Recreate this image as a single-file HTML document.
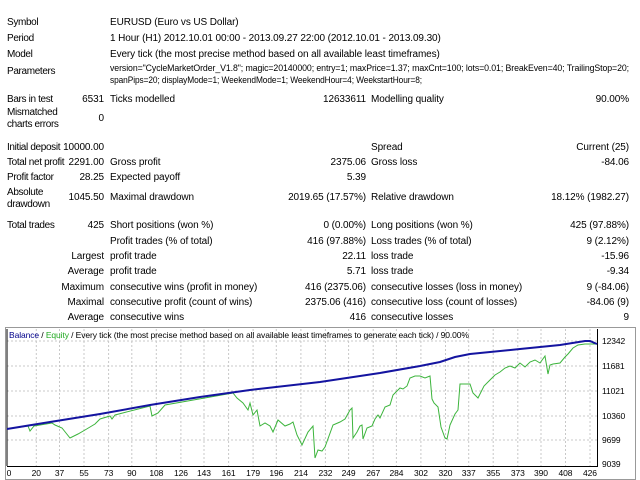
<!DOCTYPE html>
<html><head><meta charset="utf-8"><style>
body{margin:0;width:640px;height:480px;background:#fff;font-family:"Liberation Sans",sans-serif;font-size:10px;letter-spacing:-0.1px;color:#000;position:relative;overflow:hidden}
.t{position:absolute;white-space:nowrap;line-height:12px}
.l{letter-spacing:-0.35px}
.r{text-align:right}
</style></head><body>
<div class="t l" style="left:7px;top:17px">Symbol</div><div class="t" style="left:110px;top:17px">EURUSD (Euro vs US Dollar)</div>
<div class="t l" style="left:7px;top:33px">Period</div><div class="t" style="left:110px;top:33px">1 Hour (H1) 2012.10.01 00:00 - 2013.09.27 22:00 (2012.10.01 - 2013.09.30)</div>
<div class="t l" style="left:7px;top:49px">Model</div><div class="t" style="left:110px;top:49px">Every tick (the most precise method based on all available least timeframes)</div>
<div class="t l" style="left:7px;top:66px">Parameters</div>
<div class="t l" style="left:7px;top:94px">Bars in test</div><div class="t r" style="right:536px;top:94px">6531</div><div class="t" style="left:110px;top:94px">Ticks modelled</div><div class="t r" style="right:274px;top:94px">12633611</div><div class="t" style="left:371px;top:94px">Modelling quality</div><div class="t r" style="right:11px;top:94px">90.00%</div>
<div class="t l" style="left:7px;top:107px">Mismatched<br>charts errors</div><div class="t r" style="right:536px;top:113px">0</div>

<div class="t l" style="left:7px;top:142px">Initial deposit</div><div class="t r" style="right:536px;top:142px">10000.00</div><div class="t" style="left:371px;top:142px">Spread</div><div class="t r" style="right:11px;top:142px">Current (25)</div>
<div class="t l" style="left:7px;top:157px">Total net profit</div><div class="t r" style="right:536px;top:157px">2291.00</div><div class="t" style="left:110px;top:157px">Gross profit</div><div class="t r" style="right:274px;top:157px">2375.06</div><div class="t" style="left:371px;top:157px">Gross loss</div><div class="t r" style="right:11px;top:157px">-84.06</div>
<div class="t l" style="left:7px;top:172px">Profit factor</div><div class="t r" style="right:536px;top:172px">28.25</div><div class="t" style="left:110px;top:172px">Expected payoff</div><div class="t r" style="right:274px;top:172px">5.39</div>
<div class="t l" style="left:7px;top:187px">Absolute<br>drawdown</div><div class="t r" style="right:536px;top:192px">1045.50</div><div class="t" style="left:110px;top:192px">Maximal drawdown</div><div class="t r" style="right:274px;top:192px">2019.65 (17.57%)</div><div class="t" style="left:371px;top:192px">Relative drawdown</div><div class="t r" style="right:11px;top:192px">18.12% (1982.27)</div>
<div class="t l" style="left:7px;top:220px">Total trades</div><div class="t r" style="right:536px;top:220px">425</div><div class="t" style="left:110px;top:220px">Short positions (won %)</div><div class="t r" style="right:274px;top:220px">0 (0.00%)</div><div class="t" style="left:371px;top:220px">Long positions (won %)</div><div class="t r" style="right:11px;top:220px">425 (97.88%)</div>
<div class="t" style="left:110px;top:236px">Profit trades (% of total)</div><div class="t r" style="right:274px;top:236px">416 (97.88%)</div><div class="t" style="left:371px;top:236px">Loss trades (% of total)</div><div class="t r" style="right:11px;top:236px">9 (2.12%)</div>
<div class="t r" style="right:536px;top:251px">Largest</div><div class="t" style="left:110px;top:251px">profit trade</div><div class="t r" style="right:274px;top:251px">22.11</div><div class="t" style="left:371px;top:251px">loss trade</div><div class="t r" style="right:11px;top:251px">-15.96</div>
<div class="t r" style="right:536px;top:266px">Average</div><div class="t" style="left:110px;top:266px">profit trade</div><div class="t r" style="right:274px;top:266px">5.71</div><div class="t" style="left:371px;top:266px">loss trade</div><div class="t r" style="right:11px;top:266px">-9.34</div>
<div class="t r" style="right:536px;top:282px">Maximum</div><div class="t" style="left:110px;top:282px">consecutive wins (profit in money)</div><div class="t r" style="right:274px;top:282px">416 (2375.06)</div><div class="t" style="left:371px;top:282px">consecutive losses (loss in money)</div><div class="t r" style="right:11px;top:282px">9 (-84.06)</div>
<div class="t r" style="right:536px;top:297px">Maximal</div><div class="t" style="left:110px;top:297px">consecutive profit (count of wins)</div><div class="t r" style="right:274px;top:297px">2375.06 (416)</div><div class="t" style="left:371px;top:297px">consecutive loss (count of losses)</div><div class="t r" style="right:11px;top:297px">-84.06 (9)</div>
<div class="t r" style="right:536px;top:312px">Average</div><div class="t" style="left:110px;top:312px">consecutive wins</div><div class="t r" style="right:274px;top:312px">416</div><div class="t" style="left:371px;top:312px">consecutive losses</div><div class="t r" style="right:11px;top:312px">9</div>

<svg style="position:absolute;left:0;top:0" width="640" height="480" font-family="Liberation Sans, sans-serif" font-size="9">
<text x="110" y="71" font-size="9.5" textLength="519" lengthAdjust="spacingAndGlyphs">version="CycleMarketOrder_V1.8"; magic=20140000; entry=1; maxPrice=1.37; maxCnt=100; lots=0.01; BreakEven=40; TrailingStop=20;</text>
<text x="110" y="83" font-size="9.5" textLength="312" lengthAdjust="spacingAndGlyphs">spanPips=20; displayMode=1; WeekendMode=1; WeekendHour=4; WeekstartHour=8;</text>
<rect x="5.5" y="327.5" width="630" height="152" fill="#fff" stroke="#999"/>
<g stroke="#c8c8c8" stroke-dasharray="2,2">
<line x1="7" x2="597" y1="341" y2="341"/><line x1="7" x2="597" y1="366" y2="366"/><line x1="7" x2="597" y1="391" y2="391"/><line x1="7" x2="597" y1="416" y2="416"/><line x1="7" x2="597" y1="440" y2="440"/>
<line x1="36.3" x2="36.3" y1="329" y2="466"/><line x1="59.5" x2="59.5" y1="329" y2="466"/><line x1="84" x2="84" y1="329" y2="466"/><line x1="108.6" x2="108.6" y1="329" y2="466"/><line x1="131.8" x2="131.8" y1="329" y2="466"/><line x1="156.3" x2="156.3" y1="329" y2="466"/><line x1="180.9" x2="180.9" y1="329" y2="466"/><line x1="204" x2="204" y1="329" y2="466"/><line x1="228.6" x2="228.6" y1="329" y2="466"/><line x1="253.1" x2="253.1" y1="329" y2="466"/><line x1="276.3" x2="276.3" y1="329" y2="466"/><line x1="300.9" x2="300.9" y1="329" y2="466"/><line x1="325.4" x2="325.4" y1="329" y2="466"/><line x1="348.6" x2="348.6" y1="329" y2="466"/><line x1="373.2" x2="373.2" y1="329" y2="466"/><line x1="396.4" x2="396.4" y1="329" y2="466"/><line x1="420.9" x2="420.9" y1="329" y2="466"/><line x1="445.5" x2="445.5" y1="329" y2="466"/><line x1="468.7" x2="468.7" y1="329" y2="466"/><line x1="493.2" x2="493.2" y1="329" y2="466"/><line x1="517.8" x2="517.8" y1="329" y2="466"/><line x1="541" x2="541" y1="329" y2="466"/><line x1="565.5" x2="565.5" y1="329" y2="466"/><line x1="590" x2="590" y1="329" y2="466"/>
</g>
<line x1="7" x2="7" y1="329" y2="466" stroke="#000"/>
<line x1="597.5" x2="597.5" y1="329" y2="467" stroke="#000"/>
<line x1="7" x2="598" y1="466.5" y2="466.5" stroke="#000"/>
<text x="9" y="338" font-size="8.5"><tspan fill="#00008b">Balance</tspan> / <tspan fill="#2a2">Equity</tspan> / Every tick (the most precise method based on all available least timeframes to generate each tick) / 90.00%</text>
<g font-size="8.5"><text x="602" y="344">12342</text><text x="602" y="369">11681</text><text x="602" y="394">11021</text><text x="602" y="419">10360</text><text x="602" y="443">9699</text><text x="602" y="467">9039</text></g>
<g font-size="8.5" text-anchor="middle"><text x="9" y="476">0</text><text x="36.3" y="476">20</text><text x="59.5" y="476">37</text><text x="84" y="476">55</text><text x="108.6" y="476">73</text><text x="131.8" y="476">90</text><text x="156.3" y="476">108</text><text x="180.9" y="476">126</text><text x="204" y="476">143</text><text x="228.6" y="476">161</text><text x="253.1" y="476">179</text><text x="276.3" y="476">196</text><text x="300.9" y="476">214</text><text x="325.4" y="476">232</text><text x="348.6" y="476">249</text><text x="373.2" y="476">267</text><text x="396.4" y="476">284</text><text x="420.9" y="476">302</text><text x="445.5" y="476">320</text><text x="468.7" y="476">337</text><text x="493.2" y="476">355</text><text x="517.8" y="476">373</text><text x="541" y="476">390</text><text x="565.5" y="476">408</text><text x="590" y="476">426</text></g>
<polyline fill="none" stroke="#3cb43c" stroke-width="1" points="7,429 28,426 30,431 34,426 52,423 55,425 62,428 66,433 70,438 78,434 85,430 95,424 100,419 110,416 112,419 115,415 150,406 152,416 158,413 165,405 233,393 237,398 243,403 248,410 250,403 253,415 257,410 260,426 265,423 270,426 273,432 278,420 285,426 290,424 293,422 297,435 302,445 308,432 313,426 315,458 318,450 322,451 325,447 333,425 340,422 345,419 350,410 352,408 353,438 357,432 360,426 362,425 363,439 367,428 372,426 375,419 378,415 380,418 385,407 390,405 393,395 398,390 400,388 403,389 407,386 410,378 415,376 420,376 425,378 430,376 432,399 434,403 438,407 441,427 445,438 447,439 450,425 455,414 458,410 460,384 470,384 473,393 478,398 484,386 490,380 495,375 500,372 505,368 510,366 515,368 520,363 525,367 530,362 535,360 540,363 545,356 548,374 550,365 553,364 560,363 565,357 568,354 573,348 578,345 585,344 597,344"/>
<polyline fill="none" stroke="#1414a0" stroke-width="2" points="7,429 50,422 100,414 150,405 200,397 250,390 320,382 380,373 420,366 440,362 455,357 470,354 520,349 560,345 585,341 590,341 597,344"/>
</svg>
</body></html>
